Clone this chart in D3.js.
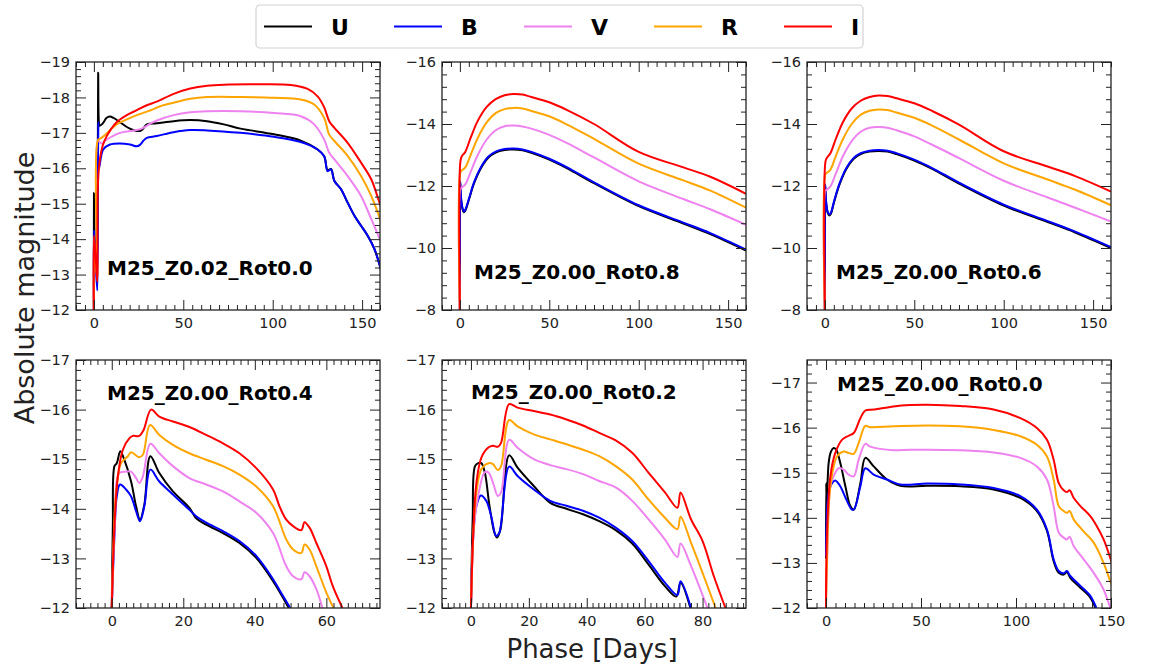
<!DOCTYPE html>
<html>
<head>
<meta charset="utf-8">
<script src="https://cdn.jsdelivr.net/npm/d3@7"></script>
<style>
  html, body { margin: 0; padding: 0; background: #fff; }
  svg { display: block; font-family: "DejaVu Sans", sans-serif; }
  .tick text { font-size: 14.5px; font-family: "DejaVu Sans", sans-serif; fill: #222; }
</style>
</head>
<body>
<svg id="chart" width="1155" height="670"></svg>
<script>
// ---- band definitions ----
const bands = ["U", "B", "V", "R", "I"];
const bandColors = ["#000000", "#0000ff", "#ee82ee", "#ffa500", "#ff0000"];

// ---- panel titles ----
const panelTitles = [
  "M25_Z0.02_Rot0.0", "M25_Z0.00_Rot0.8", "M25_Z0.00_Rot0.6",
  "M25_Z0.00_Rot0.4", "M25_Z0.00_Rot0.2", "M25_Z0.00_Rot0.0"
];

// ---- axis ranges and tick spacing per panel ----
const xDomains = [[-10, 160], [-10, 160], [-10, 160], [-10, 75], [-10, 95], [-10, 150]];
const yDomains = [[-12, -19], [-8, -16], [-8, -16], [-12, -17], [-12, -17], [-12, -17.5]];
const xMajorSteps = [50, 50, 50, 20, 20, 50];
const xMinorSteps = [5, 5, 5, 2, 2, 5];
const yMajorSteps = [1, 2, 2, 1, 1, 1];
const yMinorSteps = [0.2, 0.4, 0.4, 0.2, 0.2, 0.2];

// ---- light curves: [phase (days), absolute magnitude] ----
// M25_Z0.02_Rot0.0
const z002r00_U = [[0,-12],[0.05,-15.3],[0.6,-13.8],[1.4,-13.0],[2.0,-14.5],[2.4,-18.7],[2.8,-17.3],[3.2,-17.2],[5.2,-17.28],[7,-17.42],[9,-17.46],[11,-17.42],[14.6,-17.3],[18,-17.18],[20.2,-17.12],[24,-17.05],[26.8,-17.08],[29.6,-17.24],[35.2,-17.27],[44.6,-17.33],[53.9,-17.36],[63.3,-17.33],[72.7,-17.24],[82,-17.12],[100.7,-16.96],[115.7,-16.78],[125.1,-16.53],[128.8,-16.34],[130.7,-15.95],[132.6,-15.98],[134.5,-15.64],[138.2,-15.41],[141.9,-15.03],[145.7,-14.66],[149.4,-14.38],[153.2,-14.09],[156.9,-13.72],[160.7,-13.11]];
const z002r00_B = [[0,-12],[0.05,-14.25],[0.8,-13.5],[1.9,-12.55],[2.2,-15.5],[2.5,-17.3],[2.8,-16.0],[5.2,-16.53],[9,-16.67],[14.6,-16.7],[20.2,-16.67],[24,-16.62],[25.8,-16.66],[27.7,-16.78],[29.6,-16.86],[35.2,-16.91],[44.6,-17.02],[53.9,-17.08],[63.3,-17.07],[82,-17.0],[100.7,-16.89],[115.7,-16.74],[125.1,-16.53],[128.8,-16.34],[130.7,-15.92],[132.6,-15.97],[134.5,-15.64],[138.2,-15.41],[141.9,-15.03],[145.7,-14.66],[149.4,-14.38],[153.2,-14.09],[156.9,-13.72],[160.7,-13.11]];
const z002r00_V = [[0,-12],[0.05,-14.0],[1,-13.4],[1.9,-12.9],[2.3,-16.8],[4,-16.7],[7.1,-16.81],[14.6,-17.0],[20.2,-17.05],[24,-17.08],[26.8,-17.12],[29.6,-17.2],[31.5,-17.26],[35.2,-17.35],[44.6,-17.5],[53.9,-17.58],[63.3,-17.61],[82,-17.61],[100.7,-17.56],[115.7,-17.47],[123.2,-17.24],[128.8,-16.81],[131.6,-16.44],[134.5,-16.25],[141.9,-15.78],[149.4,-15.22],[155.1,-14.57],[160.7,-13.9]];
const z002r00_R = [[0,-12],[0.05,-13.9],[1,-13.3],[1.9,-12.9],[2.3,-16.8],[4,-16.85],[7.1,-16.98],[12.7,-17.24],[18.4,-17.38],[24,-17.5],[29.6,-17.6],[31.5,-17.63],[37.1,-17.75],[44.6,-17.85],[53.9,-17.96],[63.3,-18.01],[82,-18.01],[100.7,-17.99],[115.7,-17.94],[123.2,-17.8],[128.8,-17.42],[131.6,-16.95],[134.5,-16.77],[141.9,-16.35],[149.4,-15.78],[155.1,-15.22],[160.7,-14.47]];
const z002r00_I = [[0,-12],[0.05,-14.1],[1,-13.5],[1.9,-12.8],[2.3,-15.6],[3.5,-16.3],[5,-16.65],[7.1,-16.9],[9.5,-17.1],[12.7,-17.3],[18.4,-17.5],[24,-17.64],[29.6,-17.78],[35.2,-17.88],[44.6,-18.1],[53.9,-18.25],[63.3,-18.33],[72.7,-18.36],[91.4,-18.37],[110.1,-18.35],[119.5,-18.24],[125.1,-18.03],[128.8,-17.72],[131.6,-17.33],[134.5,-17.14],[141.9,-16.72],[149.4,-16.16],[155.1,-15.69],[159.7,-15.03],[161,-14.85]];

// M25_Z0.00_Rot0.8
const z000r08_U = [[0,-8],[0.2,-12.1],[0.6,-11.6],[1.5,-11.25],[2.2,-11.15],[3,-11.2],[5,-11.55],[8,-12.1],[12,-12.6],[16,-12.92],[20,-13.08],[25,-13.16],[30,-13.18],[35,-13.15],[40,-13.07],[50,-12.85],[60,-12.57],[75,-12.09],[100,-11.35],[125,-10.79],[140,-10.45],[160,-9.92]];
const z000r08_B = [[0,-8],[0.2,-12.15],[0.6,-11.65],[1.5,-11.28],[2.2,-11.18],[3,-11.23],[5,-11.58],[8,-12.13],[12,-12.63],[16,-12.95],[20,-13.11],[25,-13.19],[30,-13.21],[35,-13.18],[40,-13.1],[50,-12.88],[60,-12.6],[75,-12.12],[100,-11.38],[125,-10.82],[140,-10.48],[160,-9.95]];
const z000r08_V = [[0,-8],[0.3,-11.9],[1,-11.95],[3,-12.05],[6,-12.45],[10,-13.0],[15,-13.5],[20,-13.8],[25,-13.93],[30,-13.95],[35,-13.92],[40,-13.85],[50,-13.65],[60,-13.38],[75,-12.92],[100,-12.15],[125,-11.58],[140,-11.25],[160,-10.75]];
const z000r08_R = [[0,-8],[0.3,-12.45],[1,-12.5],[3,-12.6],[6,-13.0],[10,-13.55],[15,-14.05],[20,-14.35],[25,-14.48],[30,-14.52],[35,-14.5],[40,-14.42],[50,-14.25],[60,-13.98],[75,-13.52],[100,-12.72],[125,-12.18],[140,-11.85],[160,-11.3]];
const z000r08_I = [[0,-8],[0.3,-12.8],[1,-12.95],[3,-13.1],[6,-13.55],[10,-14.1],[15,-14.55],[20,-14.8],[25,-14.93],[30,-14.97],[35,-14.95],[40,-14.87],[50,-14.7],[60,-14.45],[75,-14.0],[100,-13.1],[125,-12.6],[140,-12.3],[160,-11.75]];

// M25_Z0.00_Rot0.6
const z000r06_U = [[0,-8],[0.2,-12.0],[0.6,-11.5],[1.5,-11.15],[2.4,-11.05],[3.3,-11.1],[5,-11.45],[8,-12.02],[12,-12.55],[16,-12.87],[20,-13.03],[25,-13.11],[30,-13.13],[35,-13.11],[40,-13.03],[50,-12.82],[60,-12.55],[75,-12.08],[100,-11.37],[125,-10.83],[140,-10.5],[160,-10.0]];
const z000r06_B = [[0,-8],[0.2,-12.05],[0.6,-11.55],[1.5,-11.18],[2.4,-11.08],[3.3,-11.13],[5,-11.48],[8,-12.05],[12,-12.58],[16,-12.9],[20,-13.06],[25,-13.14],[30,-13.16],[35,-13.14],[40,-13.06],[50,-12.85],[60,-12.58],[75,-12.11],[100,-11.4],[125,-10.86],[140,-10.53],[160,-10.03]];
const z000r06_V = [[0,-8],[0.3,-11.85],[1,-11.88],[3,-11.98],[6,-12.38],[10,-12.95],[15,-13.45],[20,-13.75],[25,-13.88],[30,-13.9],[35,-13.88],[40,-13.8],[50,-13.6],[60,-13.33],[75,-12.9],[100,-12.17],[125,-11.62],[140,-11.3],[160,-10.85]];
const z000r06_R = [[0,-8],[0.3,-12.38],[1,-12.42],[3,-12.52],[6,-12.95],[10,-13.5],[15,-14.0],[20,-14.3],[25,-14.43],[30,-14.47],[35,-14.45],[40,-14.37],[50,-14.2],[60,-13.95],[75,-13.5],[100,-12.73],[125,-12.2],[140,-11.88],[160,-11.38]];
const z000r06_I = [[0,-8],[0.3,-12.78],[1,-12.9],[3,-13.05],[6,-13.5],[10,-14.05],[15,-14.5],[20,-14.75],[25,-14.87],[30,-14.92],[35,-14.9],[40,-14.83],[50,-14.67],[60,-14.42],[75,-13.98],[100,-13.12],[125,-12.62],[140,-12.32],[160,-11.82]];

// M25_Z0.00_Rot0.4
const z000r04_U = [[0,-12],[0.3,-13.65],[0.75,-14.86],[1.4,-14.92],[2.4,-15.16],[3.5,-14.99],[5.4,-14.55],[6.8,-14.05],[7.9,-13.78],[9.1,-14.08],[10.8,-15.06],[13.3,-14.72],[17.1,-14.35],[21.7,-14.02],[23.6,-13.81],[26.4,-13.68],[31.1,-13.51],[35.7,-13.31],[40.4,-13.01],[45.1,-12.54],[49.5,-12]];
const z000r04_B = [[0,-12],[0.75,-13.45],[1.4,-14.25],[2.3,-14.49],[4,-14.39],[5.4,-14.25],[6.8,-13.95],[7.9,-13.75],[9.1,-14.05],[10.8,-14.79],[13.3,-14.55],[17.1,-14.29],[21.7,-13.98],[23.6,-13.85],[26.4,-13.72],[31.1,-13.55],[35.7,-13.35],[40.4,-13.05],[45.1,-12.58],[47.9,-12.24],[49.9,-12]];
const z000r04_V = [[0,-12],[0.8,-13.6],[2.1,-14.72],[4.0,-14.75],[5.4,-14.75],[6.8,-14.62],[7.7,-14.52],[8.7,-14.65],[10.8,-15.31],[13.3,-15.12],[17.1,-14.86],[21.7,-14.62],[26.4,-14.49],[31.1,-14.35],[35.7,-14.15],[40.4,-13.92],[45.1,-13.51],[48.8,-12.84],[50.7,-12.64],[53,-12.58],[53.9,-12.72],[55.3,-12.64],[57.2,-12.38],[58.9,-12]];
const z000r04_R = [[0,-12],[0.7,-13.7],[1.2,-14.32],[2.6,-14.92],[4.5,-15.06],[5.4,-15.14],[7.7,-15.04],[8.7,-15.09],[10.7,-15.69],[13.3,-15.49],[17.1,-15.29],[21.7,-15.12],[26.4,-14.99],[31.1,-14.86],[35.7,-14.69],[40.4,-14.45],[45.1,-14.05],[48.8,-13.38],[50.7,-13.18],[53,-13.11],[53.9,-13.28],[55.3,-13.18],[57.2,-12.84],[60,-12.31],[62,-12]];
const z000r04_I = [[0,-12],[0.75,-13.65],[1.7,-14.65],[3.1,-15.19],[4.9,-15.42],[5.9,-15.47],[7.7,-15.47],[8.9,-15.59],[11,-16.0],[13.3,-15.86],[17.1,-15.76],[21.7,-15.65],[26.4,-15.49],[31.1,-15.32],[35.7,-15.12],[40.4,-14.82],[45.1,-14.39],[46.9,-14.05],[48.8,-13.78],[50.7,-13.65],[53,-13.57],[53.9,-13.73],[55.3,-13.62],[57.2,-13.31],[60,-12.84],[61.8,-12.44],[64.5,-12]];

// M25_Z0.00_Rot0.2
const z000r02_U = [[0,-12],[0.6,-13.79],[1.4,-14.86],[2.5,-14.92],[3.6,-14.92],[4.8,-14.73],[6.4,-14.06],[8.1,-13.52],[9,-13.42],[10.2,-13.59],[13.2,-15.08],[16.1,-14.83],[21.7,-14.46],[27.4,-14.12],[33,-14.0],[38.7,-13.89],[44.3,-13.75],[50,-13.57],[55.7,-13.3],[61.3,-12.88],[67,-12.44],[70.9,-12.23],[72.4,-12.51],[75.8,-12]];
const z000r02_B = [[0,-12],[0.8,-13.45],[1.9,-14.06],[3.4,-14.27],[5.3,-14.16],[7,-13.85],[8.7,-13.45],[9.8,-13.52],[13.2,-14.85],[16.1,-14.66],[21.7,-14.39],[27.4,-14.16],[33,-14.06],[38.7,-13.96],[44.3,-13.82],[50,-13.62],[55.7,-13.35],[61.3,-12.95],[67,-12.51],[71.3,-12.26],[72.4,-12.54],[76,-12]];
const z000r02_V = [[0,-12],[0.9,-13.5],[1.9,-14.06],[4.8,-14.74],[6.1,-14.73],[7.6,-14.53],[9.3,-14.26],[10.4,-14.33],[13.2,-15.39],[16.1,-15.23],[21.7,-15.0],[27.4,-14.88],[33,-14.8],[38.7,-14.7],[44.3,-14.56],[50,-14.43],[55.7,-14.16],[61.3,-13.79],[67,-13.38],[71.3,-13.03],[72.4,-13.3],[76,-12.85],[81.7,-12]];
const z000r02_R = [[0,-12],[0.9,-13.6],[1.9,-14.33],[3.6,-14.8],[6.1,-14.92],[7.6,-14.9],[9.3,-14.78],[10.4,-14.86],[13.2,-15.79],[16.1,-15.66],[21.7,-15.5],[27.4,-15.4],[33,-15.3],[38.7,-15.19],[44.3,-15.06],[50,-14.86],[55.7,-14.59],[61.3,-14.19],[67,-13.82],[71.3,-13.59],[72.4,-13.84],[76,-13.32],[80,-12.71],[84.5,-12]];
const z000r02_I = [[0,-12],[0.8,-13.52],[1.9,-14.53],[3.6,-15.03],[5.9,-15.23],[7.6,-15.27],[9.3,-15.25],[10.4,-15.33],[13.2,-16.11],[16.1,-16.04],[21.7,-15.97],[27.4,-15.9],[33,-15.8],[38.7,-15.68],[44.3,-15.53],[50,-15.38],[55.7,-15.13],[61.3,-14.73],[67,-14.33],[71.3,-14.02],[72.4,-14.33],[76,-13.79],[80,-13.35],[83.9,-12.64],[87.9,-12]];

// M25_Z0.00_Rot0.0
const z000r00_U = [[0,-13.1],[0.1,-14.77],[0.4,-14.3],[1.4,-15.22],[2.6,-15.47],[4,-15.55],[5.4,-15.51],[7.5,-15.22],[10.2,-14.7],[12.8,-14.26],[14.6,-14.18],[18.1,-14.77],[20.7,-15.33],[25.1,-15.14],[32.1,-14.85],[39.1,-14.71],[53.2,-14.71],[70.7,-14.7],[88.2,-14.63],[102.3,-14.44],[111,-14.15],[116.3,-13.71],[119.8,-13.04],[122.5,-12.78],[125.1,-12.74],[126.8,-12.8],[128.6,-12.67],[133.9,-12.45],[139.1,-12.23],[141.8,-12]];
const z000r00_B = [[0,-13.15],[1.4,-14.55],[3.2,-14.77],[4.9,-14.83],[7.5,-14.7],[11.1,-14.37],[13.7,-14.18],[14.9,-14.2],[18.1,-14.7],[20.7,-15.1],[25.1,-14.96],[32.1,-14.85],[39.1,-14.74],[53.2,-14.76],[70.7,-14.74],[88.2,-14.66],[102.3,-14.48],[111,-14.18],[116.3,-13.74],[119.8,-13.08],[122.5,-12.82],[125.1,-12.77],[126.8,-12.82],[128.6,-12.71],[133.9,-12.49],[139.1,-12.27],[142.3,-12]];
const z000r00_V = [[0,-12.3],[0.5,-12.93],[2.3,-14.7],[4,-14.92],[6.7,-15.1],[9.3,-15.07],[11.9,-14.96],[14.6,-14.92],[17.2,-15.29],[20.7,-15.64],[23.3,-15.58],[35.6,-15.5],[44.4,-15.51],[70.7,-15.5],[88.2,-15.45],[102.3,-15.33],[111,-15.14],[116.3,-14.85],[119.8,-14.26],[122.5,-13.67],[125.1,-13.56],[126.8,-13.52],[128.2,-13.58],[130.4,-13.37],[135.6,-13.08],[140.9,-12.78],[146.1,-12.41],[149.3,-12.04],[150.5,-11.9]];
const z000r00_R = [[0,-12],[0.5,-13.0],[2.3,-14.7],[5.8,-15.36],[9.3,-15.47],[11.9,-15.44],[14.6,-15.42],[17.2,-15.66],[20.7,-16.04],[23.3,-16.01],[35.6,-16.03],[53.2,-16.05],[70.7,-16.03],[88.2,-15.95],[102.3,-15.81],[111,-15.62],[116.3,-15.36],[119.8,-14.85],[122.5,-14.26],[125.1,-14.15],[126.8,-14.11],[128.2,-14.15],[130.4,-13.96],[135.6,-13.7],[140.9,-13.45],[146.1,-13.0],[149.3,-12.63],[150.5,-12.5]];
const z000r00_I = [[0,-12],[0.5,-13.59],[2.3,-14.92],[4.9,-15.44],[8.4,-15.73],[11.9,-15.82],[14.6,-15.88],[18.1,-16.21],[20.7,-16.38],[25.1,-16.4],[35.6,-16.47],[44.4,-16.5],[53.2,-16.51],[70.7,-16.48],[88.2,-16.4],[102.3,-16.21],[111,-15.99],[116.3,-15.73],[119.8,-15.29],[122.5,-14.77],[125.1,-14.61],[126.8,-14.57],[128.2,-14.61],[130.4,-14.44],[133.9,-14.26],[139.1,-14.04],[142.6,-13.81],[146.1,-13.52],[149.3,-13.15],[150.5,-13.0]];

const panelCurves = [
  [z002r00_U, z002r00_B, z002r00_V, z002r00_R, z002r00_I],
  [z000r08_U, z000r08_B, z000r08_V, z000r08_R, z000r08_I],
  [z000r06_U, z000r06_B, z000r06_V, z000r06_R, z000r06_I],
  [z000r04_U, z000r04_B, z000r04_V, z000r04_R, z000r04_I],
  [z000r02_U, z000r02_B, z000r02_V, z000r02_R, z000r02_I],
  [z000r00_U, z000r00_B, z000r00_V, z000r00_R, z000r00_I]
];

// ---- layout ----
const svg = d3.select("#chart");
const colLefts = [76, 442, 807];
const rowTops = [62, 360];
const plotW = 304, plotH = 248;
const titleOffsets = [[31, 213], [32, 217], [29, 217], [31, 40], [29, 39], [30, 31]];

const fmt = d => (d < 0 ? "\u2212" + Math.abs(d) : String(d));
const rangeSteps = (lo, hi, step) => {
  const out = [];
  const start = Math.ceil(lo / step - 1e-9);
  const end = Math.floor(hi / step + 1e-9);
  for (let k = start; k <= end; k++) out.push(+(k * step).toFixed(6));
  return out;
};

const defs = svg.append("defs");

panelTitles.forEach((title, p) => {
  const left = colLefts[p % 3], top = rowTops[Math.floor(p / 3)];
  const g = svg.append("g").attr("transform", `translate(${left},${top})`);

  const x = d3.scaleLinear().domain(xDomains[p]).range([0, plotW]);
  const y = d3.scaleLinear().domain(yDomains[p]).range([plotH, 0]);

  const [x0, x1] = xDomains[p];
  const yLo = Math.min(...yDomains[p]), yHi = Math.max(...yDomains[p]);
  const xMaj = rangeSteps(x0, x1, xMajorSteps[p]);
  const xMin = rangeSteps(x0, x1, xMinorSteps[p]).filter(v => !xMaj.some(m => Math.abs(m - v) < 1e-6));
  const yMaj = rangeSteps(yLo, yHi, yMajorSteps[p]);
  const yMin = rangeSteps(yLo, yHi, yMinorSteps[p]).filter(v => !yMaj.some(m => Math.abs(m - v) < 1e-6));

  // curves
  const clipId = "clip" + p;
  defs.append("clipPath").attr("id", clipId)
    .append("rect").attr("width", plotW).attr("height", plotH);

  const line = d3.line()
    .x(d => x(d[0]))
    .y(d => y(d[1]))
    .curve(d3.curveCatmullRom.alpha(0.5));

  const cg = g.append("g").attr("clip-path", `url(#${clipId})`);
  panelCurves[p].forEach((pts, b) => {
    cg.append("path")
      .attr("d", line(pts))
      .attr("fill", "none")
      .attr("stroke", bandColors[b])
      .attr("stroke-width", 2)
      .attr("stroke-linejoin", "round");
  });

  // inward ticks on all four sides
  const styleAxis = sel => {
    sel.attr("font-size", 14.5).attr("font-family", "DejaVu Sans, sans-serif");
    sel.select(".domain").remove();
    sel.selectAll(".tick line").attr("stroke", "#222").attr("stroke-width", 1);
  };
  const majLen = 10, minLen = 5;

  g.append("g").attr("transform", `translate(0,${plotH})`)
    .call(d3.axisBottom(x).tickValues(xMaj).tickFormat(fmt).tickSize(-majLen).tickPadding(8)).call(styleAxis);
  g.append("g").attr("transform", `translate(0,${plotH})`)
    .call(d3.axisBottom(x).tickValues(xMin).tickFormat("").tickSize(-minLen)).call(styleAxis);
  g.append("g")
    .call(d3.axisTop(x).tickValues(xMaj).tickFormat("").tickSize(-majLen)).call(styleAxis);
  g.append("g")
    .call(d3.axisTop(x).tickValues(xMin).tickFormat("").tickSize(-minLen)).call(styleAxis);

  g.append("g")
    .call(d3.axisLeft(y).tickValues(yMaj).tickFormat(fmt).tickSize(-majLen).tickPadding(6)).call(styleAxis);
  g.append("g")
    .call(d3.axisLeft(y).tickValues(yMin).tickFormat("").tickSize(-minLen)).call(styleAxis);
  g.append("g").attr("transform", `translate(${plotW},0)`)
    .call(d3.axisRight(y).tickValues(yMaj).tickFormat("").tickSize(-majLen)).call(styleAxis);
  g.append("g").attr("transform", `translate(${plotW},0)`)
    .call(d3.axisRight(y).tickValues(yMin).tickFormat("").tickSize(-minLen)).call(styleAxis);

  // frame
  g.append("rect").attr("width", plotW).attr("height", plotH)
    .attr("fill", "none").attr("stroke", "#222").attr("stroke-width", 1.3);

  // model name
  g.append("text")
    .attr("x", titleOffsets[p][0]).attr("y", titleOffsets[p][1])
    .attr("font-size", 20).attr("font-weight", "bold").attr("fill", "#000")
    .text(title);
});

// shared axis labels
svg.append("text")
  .attr("transform", "translate(34,288) rotate(-90)")
  .attr("text-anchor", "middle")
  .attr("font-size", 27).attr("fill", "#222")
  .text("Absolute magnitude");

svg.append("text")
  .attr("x", 592).attr("y", 658)
  .attr("text-anchor", "middle")
  .attr("font-size", 26).attr("fill", "#222")
  .text("Phase [Days]");

// legend
const lg = svg.append("g");
lg.append("rect").attr("x", 256).attr("y", 5).attr("width", 607).attr("height", 43)
  .attr("rx", 4).attr("fill", "#fff").attr("stroke", "#d3d3d3").attr("stroke-width", 1.2);
bands.forEach((b, i) => {
  const lx = 264 + i * 130;
  lg.append("line").attr("x1", lx).attr("x2", lx + 48).attr("y1", 26.5).attr("y2", 26.5)
    .attr("stroke", bandColors[i]).attr("stroke-width", 2);
  lg.append("text").attr("x", lx + 67).attr("y", 34.5)
    .attr("font-size", 22).attr("font-weight", "bold").attr("fill", "#000")
    .text(b);
});
</script>
</body>
</html>
